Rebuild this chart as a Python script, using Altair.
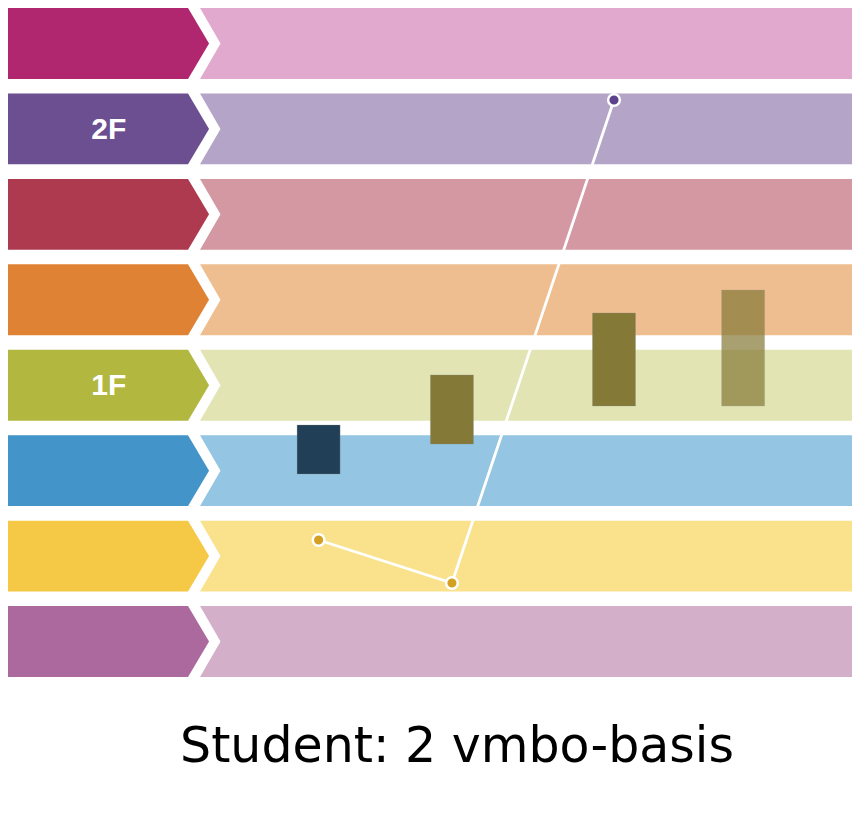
import altair as alt
import pandas as pd

# ---- data ----
band_labels = ["", "2F", "", "", "1F", "", "", ""]          # top to bottom
band_levels = [7, 6, 5, 4, 3, 2, 1, 0]                     # vertical level of each band

moments = [36.8, 52.6, 71.8, 87.1]                         # x positions (time steps)
bar_low = [1.961, 2.312, 2.757, 2.757]
bar_high = [2.534, 3.120, 3.845, 4.114]
bar_kind = ["a", "b", "b", "c"]

line_x = [36.8, 52.6, 71.8]
line_y = [1.188, 0.685, 6.338]
line_band = [1, 1, 6]

title_text = "Student: 2 vmbo-basis"

# ---- styles ----
dark = ["#b0266f", "#6b4f91", "#ad3a4e", "#e08234", "#b2b83f", "#4394c9", "#f5c845", "#ab699d"]
light = ["#e2a9cf", "#b4a4c8", "#d498a3", "#efbe90", "#e2e5b3", "#94c6e3", "#fae28d", "#d4afca"]
dot_color = {1: "#d4a021", 6: "#5e418c"}
bar_color = {"a": "#213f56", "b": "#857937", "c": "#857937"}
bar_opacity = {"a": 1.0, "b": 1.0, "c": 0.7}

HALF = 0.415          # half band height (level units)
CHEV_BODY = 21.33     # chevron body end
CHEV_TIP = 23.82      # chevron tip
BAND_LEFT = 22.75     # light band left edge
BAND_NOTCH = 25.18    # light band notch
BAND_RIGHT = 100.0
LABEL_X = 11.95

xscale = alt.Scale(domain=[0, 100], nice=False, zero=False, padding=0)
yscale = alt.Scale(domain=[-HALF, 7 + HALF], nice=False, zero=False, padding=0)

chev_rows, band_rows, label_rows = [], [], []
for i, (lab, lev) in enumerate(zip(band_labels, band_levels)):
    for dy, xr in [(-HALF, CHEV_BODY), (0, CHEV_TIP), (HALF, CHEV_BODY)]:
        chev_rows.append({"band": i, "y": lev + dy, "x": 0, "x2": xr, "c": dark[i]})
    for dy, xl in [(-HALF, BAND_LEFT), (0, BAND_NOTCH), (HALF, BAND_LEFT)]:
        band_rows.append({"band": i, "y": lev + dy, "x": xl, "x2": BAND_RIGHT, "c": light[i]})
    if lab:
        label_rows.append({"label": lab, "x": LABEL_X, "y": lev})

chev_df = pd.DataFrame(chev_rows)
band_df = pd.DataFrame(band_rows)
label_df = pd.DataFrame(label_rows)

bar_df = pd.DataFrame({
    "x": moments, "lo": bar_low, "hi": bar_high,
    "c": [bar_color[k] for k in bar_kind],
    "op": [bar_opacity[k] for k in bar_kind],
})
line_df = pd.DataFrame({
    "step": [0, 1, 2], "x": line_x, "y": line_y,
    "c": [dot_color[b] for b in line_band],
})

chev = alt.Chart(chev_df).mark_area(orient="horizontal").encode(
    y=alt.Y("y:Q", scale=yscale, axis=None),
    x=alt.X("x:Q", scale=xscale, axis=None, stack=None),
    x2="x2:Q",
    color=alt.Color("c:N", scale=None),
    detail="band:N",
)
bands = alt.Chart(band_df).mark_area(orient="horizontal").encode(
    y=alt.Y("y:Q", scale=yscale, axis=None),
    x=alt.X("x:Q", scale=xscale, axis=None, stack=None),
    x2="x2:Q",
    color=alt.Color("c:N", scale=None),
    detail="band:N",
)
labels = alt.Chart(label_df).mark_text(
    font="Liberation Sans", fontWeight="bold", fontSize=30, color="white",
    align="center", baseline="middle", dy=1,
).encode(
    x=alt.X("x:Q", scale=xscale, axis=None),
    y=alt.Y("y:Q", scale=yscale, axis=None),
    text="label:N",
)
bars = alt.Chart(bar_df).mark_bar(size=43, stroke="#8a8a8a", strokeWidth=0.6, strokeOpacity=0.5).encode(
    x=alt.X("x:Q", scale=xscale, axis=None),
    y=alt.Y("lo:Q", scale=yscale, axis=None),
    y2="hi:Q",
    color=alt.Color("c:N", scale=None),
    opacity=alt.Opacity("op:Q", scale=None),
)
line = alt.Chart(line_df).mark_line(color="white", strokeWidth=2.8).encode(
    x=alt.X("x:Q", scale=xscale, axis=None),
    y=alt.Y("y:Q", scale=yscale, axis=None),
    order="step:Q",
)
dots = alt.Chart(line_df).mark_circle(size=135, opacity=1, stroke="white", strokeWidth=2.5).encode(
    x=alt.X("x:Q", scale=xscale, axis=None),
    y=alt.Y("y:Q", scale=yscale, axis=None),
    color=alt.Color("c:N", scale=None),
)

chart = alt.layer(bands, chev, labels, bars, line, dots).properties(
    width=844, height=669,
    padding={"left": 0, "top": 0, "right": 0, "bottom": 20},
    title=alt.TitleParams(
        title_text, orient="bottom", anchor="middle", fontSize=49, font="DejaVu Sans",
        fontWeight="normal", color="black", baseline="top", offset=46, dx=27,
    ),
    background="white",
).configure_view(stroke=None)

chart.save("out.html", embed_options={"renderer": "svg", "actions": False})
